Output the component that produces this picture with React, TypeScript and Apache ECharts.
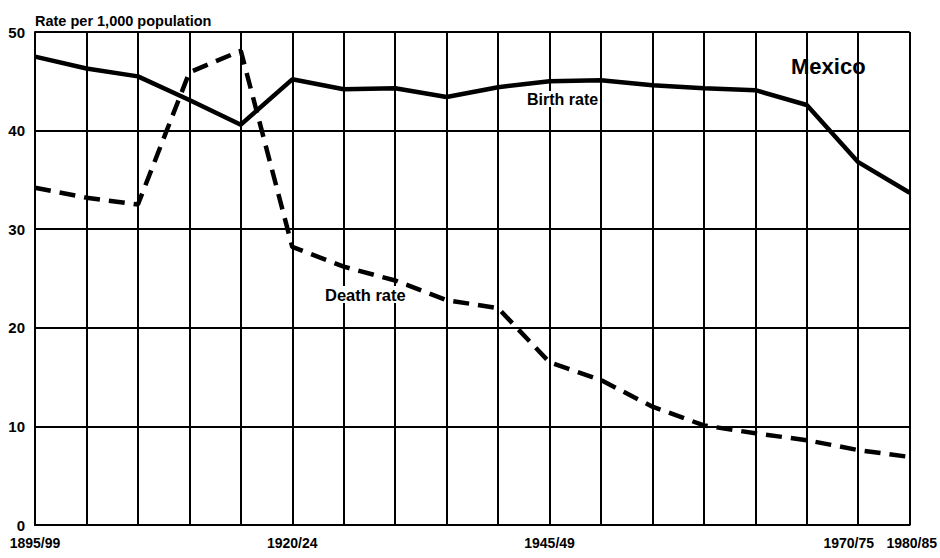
import React, { useEffect, useRef } from "react";
import * as echarts from "echarts";

const periods = [
  "1895/99", "1900/04", "1905/09", "1910/14", "1915/19", "1920/24",
  "1925/29", "1930/34", "1935/39", "1940/44", "1945/49", "1950/54",
  "1955/59", "1960/64", "1965/69", "1970/75", "1975/79", "1980/85",
];
const birthRate = [47.5, 46.3, 45.5, 43.1, 40.6, 45.2, 44.2, 44.3, 43.4, 44.4, 45.0, 45.1, 44.6, 44.3, 44.1, 42.6, 36.8, 33.7];
const deathRate = [34.2, 33.2, 32.5, 45.9, 48.1, 28.2, 26.2, 24.8, 22.8, 22.0, 16.5, 14.7, 12.0, 10.1, 9.3, 8.6, 7.6, 6.9];
const labeledIdx = [0, 5, 10, 15, 17];
const yTicks = { min: 0, max: 50, interval: 10 };

const FONT = "Liberation Sans";

export default function App() {
  const ref = useRef<HTMLDivElement>(null);
  useEffect(() => {
    if (!ref.current) return;
    const chart = echarts.init(ref.current, undefined, { renderer: "svg" });
    chart.setOption({
      animation: false,
      backgroundColor: "#ffffff",
      grid: { left: 35, right: 27, top: 32, bottom: 33, containLabel: false },
      xAxis: {
        type: "category",
        data: periods,
        boundaryGap: false,
        axisLine: { show: true, lineStyle: { color: "#000", width: 2 } },
        axisTick: { show: false },
        splitLine: { show: true, interval: 0, lineStyle: { color: "#000", width: 2 } },
        axisLabel: {
          interval: (i: number) => labeledIdx.includes(i),
          showMaxLabel: true,
          margin: 11,
          color: "#000",
          fontFamily: FONT,
          fontWeight: "bold",
          fontSize: 14,
          formatter: (v: string, i: number) => (i === 15 ? "{s|" + v + "}" : i === 17 ? "{e|" + v + "}" : v),
          rich: {
            s: { padding: [0, 0, 0, 84], fontFamily: FONT, fontWeight: "bold", fontSize: 14, color: "#000" },
            e: { padding: [0, 0, 0, 4], fontFamily: FONT, fontWeight: "bold", fontSize: 14, color: "#000" },
          },
        },
      },
      yAxis: {
        type: "value",
        min: yTicks.min,
        max: yTicks.max,
        interval: yTicks.interval,
        name: "Rate per 1,000 population",
        nameLocation: "end",
        nameGap: 4,
        nameTextStyle: { align: "left", color: "#000", fontFamily: FONT, fontWeight: "bold", fontSize: 14.5 },
        axisLine: { show: true, lineStyle: { color: "#000", width: 2 } },
        axisTick: { show: false },
        splitLine: { show: true, lineStyle: { color: "#000", width: 2 } },
        axisLabel: { margin: 10, color: "#000", fontFamily: FONT, fontWeight: "bold", fontSize: 15 },
      },
      series: [
        {
          name: "Birth rate",
          type: "line",
          data: birthRate,
          symbol: "none",
          lineStyle: { color: "#000", width: 4.5 },
          z: 5,
        },
        {
          name: "Death rate",
          type: "line",
          data: deathRate,
          symbol: "none",
          lineStyle: { color: "#000", width: 4.5, type: [16, 9] },
          z: 5,
        },
      ],
      graphic: [
        {
          type: "text",
          left: 791,
          top: 55,
          z: 10,
          style: { text: "Mexico", fill: "#000", font: `bold 22px "${FONT}"` },
        },
        {
          type: "text",
          left: 527,
          top: 91,
          z: 10,
          style: { text: "Birth rate", fill: "#000", font: `bold 16px "${FONT}"`, backgroundColor: "#fff" },
        },
        {
          type: "text",
          left: 325,
          top: 286,
          z: 10,
          style: { text: "Death rate", fill: "#000", font: `bold 16.5px "${FONT}"`, backgroundColor: "#fff" },
        },
      ],
    });
    return () => chart.dispose();
  }, []);
  return <div ref={ref} style={{ width: 940, height: 558, position: "absolute", left: 0, top: 0 }} />;
}
